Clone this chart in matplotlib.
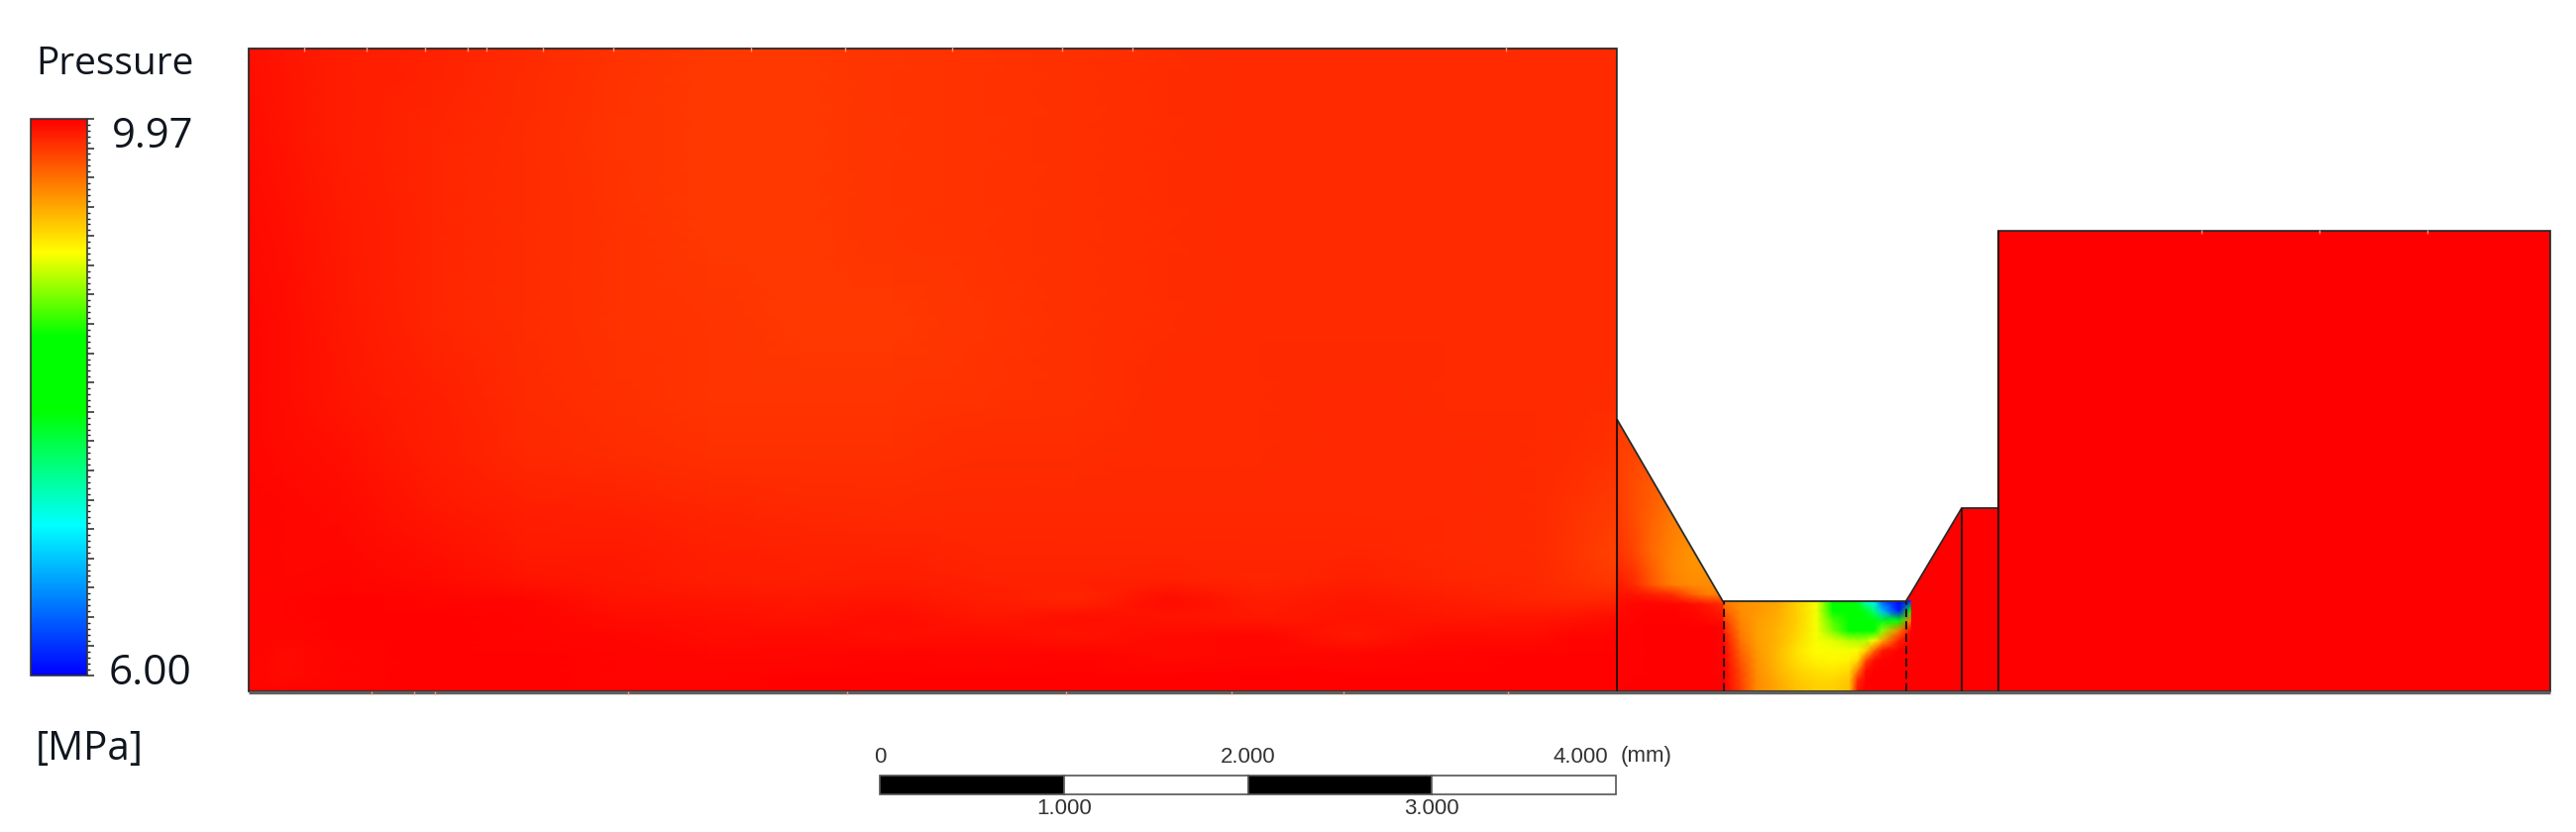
import numpy as np
import matplotlib
matplotlib.use("Agg")
import matplotlib.pyplot as plt
from matplotlib.colors import LinearSegmentedColormap, Normalize
from matplotlib.cm import ScalarMappable
from matplotlib.patches import Polygon, Rectangle

# ---------- data (pressure in MPa, coordinates in mm) ----------
P_MIN, P_MAX = 6.00, 9.97
SCALE_TICKS = [0, 1, 2, 3, 4]
SCALE_LABELS = ["0", "1.000", "2.000", "3.000", "4.000"]

OUTLINE_X = [0, 0, 7.434, 7.434, 8.01, 9.005, 9.03, 9.308, 9.507, 9.507, 12.506, 12.506]
OUTLINE_Y = [0, 3.494, 3.494, 1.48, 0.49, 0.49, 0.53, 0.996, 0.996, 2.503, 2.503, 0]

MAIN_X = [0, 0.2, 0.5, 1, 1.5, 2, 2.5, 3, 3.5, 4, 4.5, 5, 5.5, 6, 6.5, 7, 7.2, 7.44]
MAIN_Y = [0, 0.08, 0.2, 0.3, 0.4, 0.5, 0.6, 0.75, 1, 1.3, 1.6, 2, 2.5, 3, 3.494]
MAIN_P = [
    [9.96, 9.95, 9.96, 9.96, 9.96, 9.96, 9.96, 9.96, 9.96, 9.96, 9.96, 9.96, 9.96, 9.96, 9.96, 9.96, 9.96, 9.96],
    [9.94, 9.93, 9.95, 9.96, 9.96, 9.95, 9.95, 9.96, 9.96, 9.96, 9.96, 9.96, 9.97, 9.96, 9.96, 9.96, 9.96, 9.96],
    [9.95, 9.93, 9.95, 9.96, 9.96, 9.95, 9.94, 9.94, 9.95, 9.94, 9.95, 9.93, 9.94, 9.94, 9.95, 9.96, 9.96, 9.96],
    [9.95, 9.94, 9.96, 9.96, 9.95, 9.94, 9.92, 9.93, 9.91, 9.92, 9.90, 9.93, 9.94, 9.87, 9.93, 9.92, 9.95, 9.95],
    [9.95, 9.95, 9.96, 9.96, 9.95, 9.92, 9.91, 9.90, 9.92, 9.88, 9.91, 9.90, 9.87, 9.90, 9.88, 9.89, 9.90, 9.92],
    [9.95, 9.95, 9.96, 9.95, 9.94, 9.90, 9.89, 9.88, 9.89, 9.86, 9.83, 9.92, 9.86, 9.88, 9.86, 9.83, 9.82, 9.83],
    [9.95, 9.94, 9.95, 9.93, 9.90, 9.88, 9.86, 9.85, 9.86, 9.84, 9.84, 9.85, 9.83, 9.85, 9.83, 9.82, 9.79, 9.75],
    [9.95, 9.94, 9.94, 9.91, 9.87, 9.87, 9.85, 9.84, 9.84, 9.83, 9.83, 9.83, 9.83, 9.83, 9.82, 9.81, 9.77, 9.72],
    [9.95, 9.94, 9.93, 9.88, 9.85, 9.84, 9.83, 9.82, 9.81, 9.82, 9.82, 9.82, 9.82, 9.82, 9.82, 9.81, 9.78, 9.74],
    [9.94, 9.93, 9.91, 9.86, 9.82, 9.80, 9.79, 9.79, 9.79, 9.80, 9.80, 9.81, 9.81, 9.82, 9.82, 9.81, 9.80, 9.78],
    [9.94, 9.92, 9.89, 9.85, 9.81, 9.79, 9.77, 9.77, 9.77, 9.78, 9.79, 9.81, 9.81, 9.82, 9.81, 9.81, 9.81, 9.80],
    [9.94, 9.92, 9.88, 9.83, 9.80, 9.78, 9.77, 9.76, 9.76, 9.77, 9.79, 9.80, 9.81, 9.81, 9.81, 9.81, 9.81, 9.81],
    [9.93, 9.91, 9.87, 9.83, 9.80, 9.78, 9.76, 9.76, 9.77, 9.78, 9.79, 9.80, 9.81, 9.81, 9.81, 9.81, 9.81, 9.81],
    [9.92, 9.90, 9.86, 9.83, 9.80, 9.77, 9.76, 9.76, 9.77, 9.78, 9.79, 9.80, 9.81, 9.81, 9.81, 9.81, 9.81, 9.81],
    [9.91, 9.89, 9.86, 9.84, 9.81, 9.78, 9.76, 9.76, 9.77, 9.78, 9.79, 9.80, 9.81, 9.81, 9.81, 9.81, 9.81, 9.81],
]

TAPER_X = [7.437, 7.532, 7.621, 7.729, 7.837, 7.926, 8.016]
TAPER_Y = [0, 0.348, 0.474, 0.528, 0.581, 0.671, 0.761, 0.940, 1.120, 1.299, 1.479]
TAPER_P = [
    [9.96, 9.97, 9.97, 9.97, 9.97, 9.97, 9.97],
    [9.95, 9.96, 9.97, 9.97, 9.97, 9.97, 9.96],
    [9.92, 9.94, 9.95, 9.95, 9.93, 9.88, 9.80],
    [9.90, 9.90, 9.85, 9.80, 9.62, 9.50, 9.50],
    [9.87, 9.80, 9.65, 9.50, 9.45, 9.45, 9.42],
    [9.82, 9.75, 9.62, 9.47, 9.42, 9.42, 9.42],
    [9.78, 9.70, 9.58, 9.48, 9.42, 9.42, 9.42],
    [9.75, 9.68, 9.60, 9.52, 9.47, 9.45, 9.45],
    [9.74, 9.68, 9.63, 9.58, 9.55, 9.55, 9.55],
    [9.73, 9.71, 9.67, 9.64, 9.62, 9.60, 9.60],
    [9.75, 9.73, 9.70, 9.68, 9.65, 9.64, 9.62],
]

THROAT_X = [8.016, 8.106, 8.195, 8.303, 8.411, 8.518, 8.608, 8.698, 8.743, 8.788, 8.832, 8.877, 8.967, 9.030]
THROAT_Y = [0, 0.061, 0.115, 0.169, 0.222, 0.276, 0.330, 0.384, 0.438, 0.492]
THROAT_P = [
    [9.97, 9.75, 9.45, 9.35, 9.25, 9.20, 9.20, 9.25, 9.90, 9.97, 9.97, 9.97, 9.97, 9.97],
    [9.97, 9.72, 9.45, 9.33, 9.22, 9.17, 9.17, 9.22, 9.80, 9.96, 9.97, 9.97, 9.97, 9.97],
    [9.97, 9.70, 9.43, 9.30, 9.18, 9.12, 9.10, 9.15, 9.50, 9.92, 9.97, 9.97, 9.97, 9.97],
    [9.96, 9.65, 9.42, 9.28, 9.14, 9.06, 9.04, 9.06, 9.15, 9.70, 9.93, 9.96, 9.97, 9.97],
    [9.95, 9.60, 9.40, 9.28, 9.12, 9.02, 9.00, 9.00, 9.03, 9.20, 9.60, 9.88, 9.97, 9.97],
    [9.92, 9.55, 9.38, 9.30, 9.15, 9.00, 8.95, 8.85, 8.82, 8.85, 9.00, 9.35, 9.85, 9.97],
    [9.85, 9.50, 9.38, 9.30, 9.18, 9.00, 8.70, 8.30, 8.20, 8.20, 8.30, 8.75, 9.50, 9.95],
    [9.75, 9.47, 9.38, 9.32, 9.20, 9.00, 8.60, 8.00, 7.97, 7.95, 7.92, 7.80, 8.20, 9.50],
    [9.62, 9.45, 9.40, 9.33, 9.20, 9.00, 8.40, 7.95, 7.90, 7.80, 7.50, 6.80, 6.10, 8.00],
    [9.50, 9.42, 9.40, 9.35, 9.20, 9.00, 8.30, 7.95, 7.80, 7.25, 7.00, 6.40, 6.00, 6.20],
]

DOWNSTREAM_X = [9.0, 12.506]
DOWNSTREAM_Y = [0, 2.503]
DOWNSTREAM_P = [[9.97, 9.97], [9.97, 9.97]]

INTERFACE_SOLID = [7.437, 9.308, 9.507]
INTERFACE_DASHED = [8.016, 9.005]
INTERFACE_TOP = [1.48, 0.996, 2.503]
INTERFACE_DASHED_TOP = [0.49, 0.49]
NICKS_TOP_X = [0.30, 0.64, 0.96, 1.19, 1.29, 1.60, 1.98, 2.73, 3.24, 3.82, 4.42, 4.80, 6.83]
NICKS_STEP_X = [10.61, 11.25, 11.84]
NICKS_BOTTOM_X = [0.67, 0.90, 1.01, 2.06, 3.25, 4.44, 5.34, 5.95, 6.84]

# ---------- layout ----------
W, H = 2600, 840
PX_PER_MM = 185.75
X0_PX, Y0_PX = 251, 698

plt.rcParams["font.family"] = ["Open Sans", "DejaVu Sans"]
fig = plt.figure(figsize=(W / 100, H / 100), dpi=100, facecolor="white")
ax = fig.add_axes([0, 0, 1, 1])
ax.set_xlim(-X0_PX / PX_PER_MM, (W - X0_PX) / PX_PER_MM)
ax.set_ylim(-(H - Y0_PX) / PX_PER_MM, Y0_PX / PX_PER_MM)
ax.axis("off")

stops = [(0.0, "#0000ff"), (0.27, "#00ffff"), (0.475, "#00ff00"), (0.61, "#00ff00"),
         (0.76, "#ffff00"), (1.0, "#ff0000")]
cmap = LinearSegmentedColormap.from_list("ansys", stops, N=512)
norm = Normalize(P_MIN, P_MAX)

outline = Polygon(np.column_stack([OUTLINE_X, OUTLINE_Y]), closed=True, transform=ax.transData,
                  facecolor="none", edgecolor="#2a2a2a", linewidth=1.3, zorder=5)
ax.add_patch(outline)
clip = Polygon(np.column_stack([OUTLINE_X, OUTLINE_Y]), closed=True, transform=ax.transData)

for xs, ys, ps in [(DOWNSTREAM_X, DOWNSTREAM_Y, DOWNSTREAM_P), (MAIN_X, MAIN_Y, MAIN_P),
                   (TAPER_X, TAPER_Y, TAPER_P), (THROAT_X, THROAT_Y, THROAT_P)]:
    m = ax.pcolormesh(xs, ys, np.array(ps), shading="gouraud", cmap=cmap, norm=norm,
                      zorder=2, rasterized=True)
    m.set_clip_path(clip)

ax.vlines(INTERFACE_SOLID, 0, INTERFACE_TOP, colors="#301010", linewidth=1.5, zorder=6)
ax.vlines(INTERFACE_DASHED, 0, INTERFACE_DASHED_TOP, colors="#301010", linewidth=1.5,
          linestyles=(0, (4, 2)), zorder=6)
ax.hlines(-0.004, OUTLINE_X[0], OUTLINE_X[-1], colors="#606060", linewidth=2.4, zorder=6)
nick = 3 / PX_PER_MM
ax.vlines(NICKS_TOP_X, OUTLINE_Y[1] - nick, OUTLINE_Y[1] + nick / 2, colors="#ff9080", linewidth=1, zorder=7)
ax.vlines(NICKS_STEP_X, OUTLINE_Y[9] - nick, OUTLINE_Y[9] + nick / 2, colors="#ff9080", linewidth=1, zorder=7)
ax.vlines(NICKS_BOTTOM_X, -nick, 0, colors="#ff9080", linewidth=1, zorder=7)

# scale bar
BAR_X0_MM = (888 - X0_PX) / PX_PER_MM
bar_top = (Y0_PX - 783) / PX_PER_MM
bar_h = 19 / PX_PER_MM
for i in range(len(SCALE_TICKS) - 1):
    ax.add_patch(Rectangle((BAR_X0_MM + SCALE_TICKS[i], bar_top - bar_h),
                           SCALE_TICKS[i + 1] - SCALE_TICKS[i], bar_h,
                           facecolor="black" if i % 2 == 0 else "white",
                           edgecolor="#555555", linewidth=1.2, zorder=6))
for tick, lab in zip(SCALE_TICKS, SCALE_LABELS):
    upper = tick % 2 == 0
    dx = -36 / PX_PER_MM if tick == 4 else 0
    ax.text(BAR_X0_MM + tick + dx, (Y0_PX - (764 if upper else 817)) / PX_PER_MM, lab,
            ha="center", va="center", fontsize=16, family=["Liberation Sans"], color="#333333")
ax.text(BAR_X0_MM + 4 + 5 / PX_PER_MM, (Y0_PX - 764) / PX_PER_MM, "(mm)", ha="left", va="center",
        fontsize=16, family=["Liberation Sans"], color="#333333")

# legend
cax = fig.add_axes([31 / W, 1 - 682 / H, 57 / W, 562 / H])
cb = fig.colorbar(ScalarMappable(norm=norm, cmap=cmap), cax=cax)
cb.outline.set_edgecolor("#333333")
cb.outline.set_linewidth(1.2)
cb.set_ticks(np.linspace(P_MIN, P_MAX, 20))
cb.ax.set_yticks(np.linspace(P_MIN, P_MAX, 96), minor=True)
cb.ax.tick_params(which="major", length=5, width=1.1, labelright=False, color="#222222")
cb.ax.tick_params(which="minor", length=2.5, width=1, color="#222222")

tc = "#10161e"
fig.text(36 / W, 1 - 65 / H, "Pressure", fontsize=28, ha="left", va="center", color=tc)
fig.text(113 / W, 1 - 138 / H, "9.97", fontsize=30, ha="left", va="center", color=tc)
fig.text(110 / W, 1 - 680 / H, "6.00", fontsize=30.5, ha="left", va="center", color=tc)
fig.text(36 / W, 1 - 757 / H, "[MPa]", fontsize=29, ha="left", va="center", color=tc)

fig.savefig("out.png", dpi=100, facecolor="white")
